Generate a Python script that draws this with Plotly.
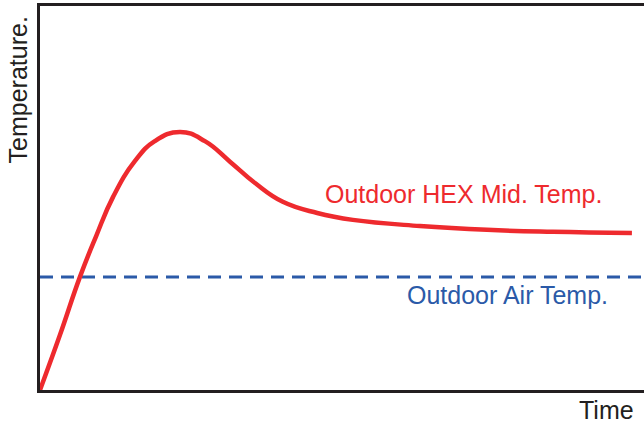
import plotly.graph_objects as go

# Data (arbitrary units)
time_hex = [0, 3.3, 6.6, 9.3, 12.1, 15.7, 19.0, 23.2, 27.3, 31.5, 35.6, 40.2, 45.9,
            51.8, 62.9, 74.0, 84.9, 98.0]
temp_hex = [0, 14.3, 29.4, 40.1, 50.3, 59.6, 64.8, 67.2, 64.8, 59.4, 53.9, 49.0, 46.1,
            44.3, 42.7, 41.7, 41.2, 40.9]
time_air = [0, 100]
temp_air = [29.4, 29.4]

RED = "#ee2a2e"
BLUE = "#2b5aa8"
AXIS = "#231f20"
FONT = "Liberation Sans, Arial, sans-serif"
FS = 25

fig = go.Figure()
fig.add_trace(go.Scatter(x=time_air, y=temp_air, mode="lines",
                         line=dict(color=BLUE, width=3, dash="13px,8px"),
                         hoverinfo="skip", showlegend=False))
fig.add_trace(go.Scatter(x=time_hex, y=temp_hex, mode="lines",
                         line=dict(color=RED, width=4.5, shape="spline", smoothing=1.3),
                         hoverinfo="skip", showlegend=False))

fig.add_annotation(text="Outdoor HEX Mid. Temp.", xref="paper", yref="paper",
                   x=0.9335, y=0.5104, xanchor="right", yanchor="middle",
                   showarrow=False, font=dict(family=FONT, size=FS, color=RED))
fig.add_annotation(text="Outdoor Air Temp.", xref="paper", yref="paper",
                   x=0.9434, y=0.2474, xanchor="right", yanchor="middle",
                   showarrow=False, font=dict(family=FONT, size=FS, color=BLUE))
fig.add_annotation(text="Time", xref="paper", yref="paper",
                   x=0.9864, y=-0.052, xanchor="right", yanchor="middle",
                   showarrow=False, font=dict(family=FONT, size=FS, color=AXIS))
fig.add_annotation(text="Temperature.", xref="paper", yref="paper",
                   x=-0.0348, y=0.7826, xanchor="center", yanchor="middle",
                   textangle=-90,
                   showarrow=False, font=dict(family=FONT, size=FS, color=AXIS))

fig.update_layout(
    width=644, height=426,
    margin=dict(l=40, r=0, t=6, b=36),
    paper_bgcolor="white", plot_bgcolor="white",
    xaxis=dict(range=[0, 100], showgrid=False, zeroline=False, showticklabels=False,
               ticks="", showline=True, linecolor=AXIS, linewidth=2.5, mirror=True),
    yaxis=dict(range=[0, 100], showgrid=False, zeroline=False, showticklabels=False,
               ticks="", showline=True, linecolor=AXIS, linewidth=2.5, mirror=False),
)

fig.write_html("out.html", config={"displayModeBar": False},
               post_script="document.body.style.margin='0';document.body.style.overflow='hidden';")
